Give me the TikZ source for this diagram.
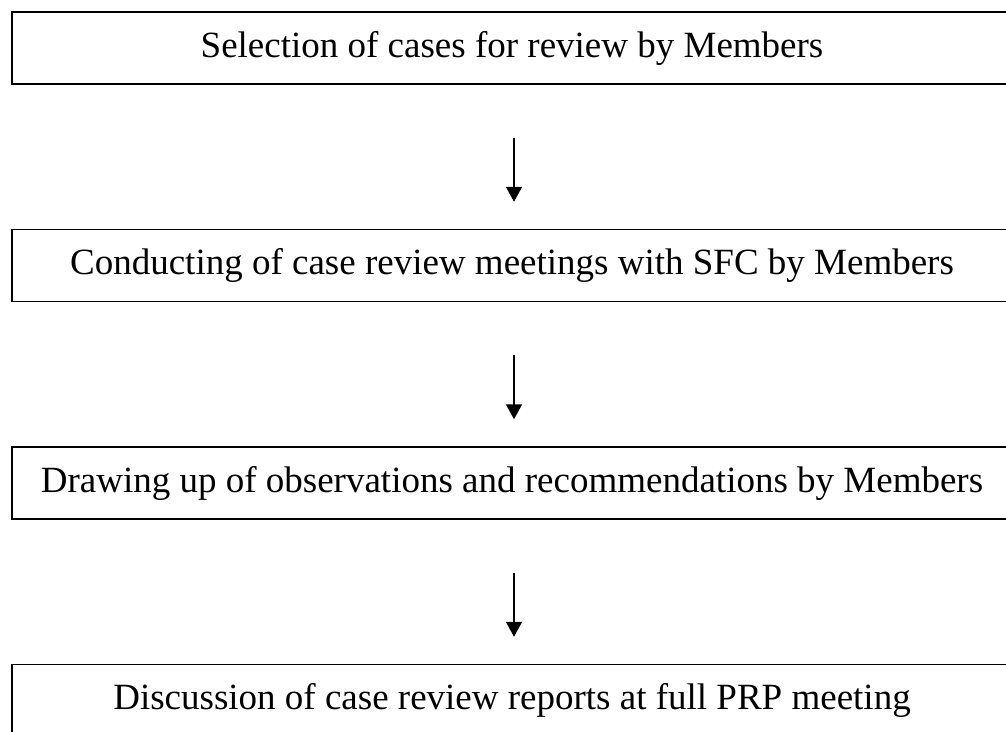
\documentclass[tikz,border=0pt]{standalone}
\usepackage{fontspec}
\setmainfont{Liberation Serif}
\usepackage{tikz}
\usetikzlibrary{positioning}
\usetikzlibrary{arrows.meta}
\tikzset{
	stage/.style={draw, rectangle, line width=1.5pt, inner sep=0pt, minimum width=1000pt, minimum height=72pt, font=\fontsize{37}{44}\selectfont},
	flow/.style={line width=1.6pt, -{Triangle[width=16pt, length=15pt]}},
}

\begin{document}
\begin{tikzpicture}
			\useasboundingbox (0,0) rectangle (1006pt,-731pt);
			\node (sel) [stage] at (512pt,-48pt) {Selection of cases for review by Members};
			\node (meet) [stage, below=144pt of sel] {Conducting of case review meetings with SFC by Members};
			\node (obs) [stage, below=144pt of meet] {Drawing up of observations and recommendations by Members};
			\node (disc) [stage, below=144pt of obs] {Discussion of case review reports at full PRP meeting};
			
			\begin{scope}[flow]
				\draw ([xshift=2pt, yshift=-53pt]sel.south) -- ([xshift=2pt, yshift=27pt]meet.north);
				\draw ([xshift=2pt, yshift=-53pt]meet.south) -- ([xshift=2pt, yshift=27pt]obs.north);
				\draw ([xshift=2pt, yshift=-53pt]obs.south) -- ([xshift=2pt, yshift=27pt]disc.north);
			\end{scope}
		\end{tikzpicture}
\end{document}
